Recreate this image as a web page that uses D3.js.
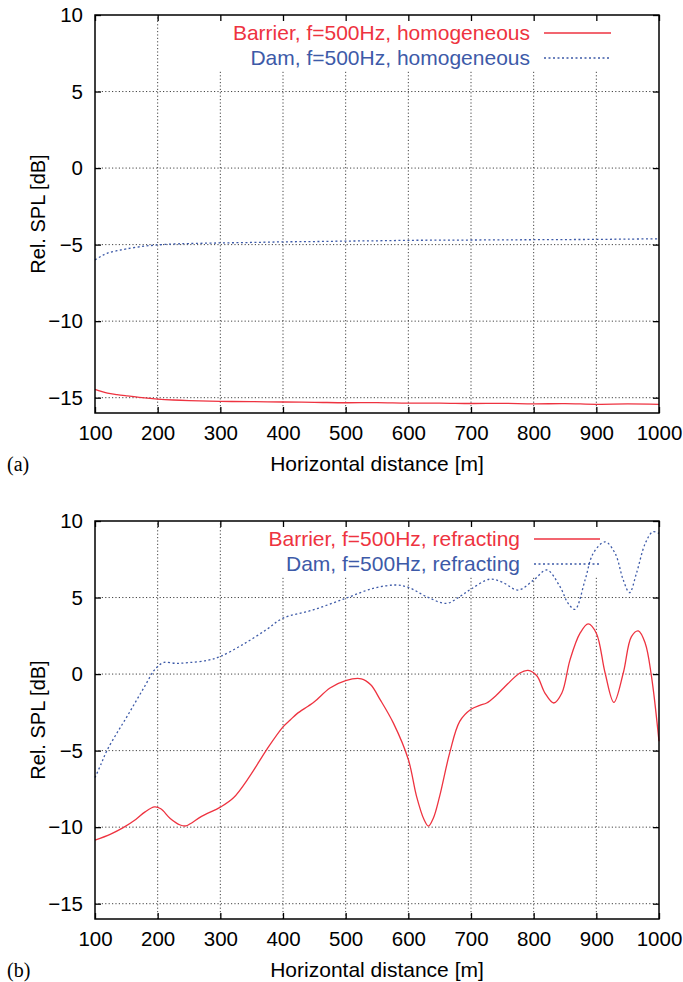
<!DOCTYPE html>
<html>
<head>
<meta charset="utf-8">
<script src="https://cdn.jsdelivr.net/npm/d3@7"></script>
<style>
  body { margin: 0; background: #fff; }
  svg { display: block; }
  text { font-family: "Liberation Sans", Arial, Helvetica, sans-serif; }
</style>
</head>
<body>
<svg width="683" height="982"></svg>
<script>
// tick values shared by both panels
var xTicks = [100, 200, 300, 400, 500, 600, 700, 800, 900, 1000];
var yTicks = [-15, -10, -5, 0, 5, 10];

// panel (a): homogeneous
var distA = [100, 110, 120, 135, 150, 175, 200, 225, 250, 300, 350, 400, 450, 500, 550, 600, 650, 700, 750, 800, 850, 900, 950, 1000];
var barrierHomog = [-14.45, -14.58, -14.7, -14.8, -14.88, -15.0, -15.09, -15.15, -15.19, -15.24, -15.26, -15.28, -15.3, -15.33, -15.32, -15.36, -15.35, -15.38, -15.37, -15.4, -15.39, -15.43, -15.41, -15.43];
var damHomog = [-6.0, -5.75, -5.55, -5.4, -5.28, -5.12, -5.02, -4.96, -4.93, -4.89, -4.86, -4.82, -4.8, -4.77, -4.75, -4.72, -4.71, -4.7, -4.69, -4.68, -4.67, -4.66, -4.64, -4.62];

// panel (b): refracting
var distBarrierRefr = [100, 125, 145, 165, 180, 195, 205, 220, 236, 245, 252, 270, 300, 321, 347, 374, 400, 412, 422, 440, 451, 475, 500, 525, 540, 555, 576, 600, 613, 625, 632, 640, 650, 666, 682, 700, 714, 725, 740, 752, 778, 791, 805, 818, 832, 845, 858, 874, 887, 900, 914, 928, 943, 956, 967, 978, 988, 1000];
var barrierRefr = [-10.85, -10.45, -10.03, -9.5, -9.0, -8.68, -8.8, -9.43, -9.86, -9.92, -9.78, -9.3, -8.69, -8.08, -6.67, -4.93, -3.45, -2.98, -2.6, -2.1, -1.78, -0.91, -0.42, -0.31, -0.7, -1.67, -3.19, -5.58, -7.97, -9.5, -9.93, -9.4, -7.97, -5.15, -3.09, -2.3, -2.04, -1.89, -1.4, -0.91, 0.07, 0.24, -0.11, -1.24, -1.89, -1.24, 0.93, 2.67, 3.28, 2.67, 0.07, -1.85, 0.07, 2.45, 2.82, 2.02, -0.15, -4.39];
var distDamRefr = [100, 110, 119, 135, 150, 165, 180, 193, 200, 210, 230, 250, 280, 300, 335, 373, 400, 448, 500, 544, 579, 600, 629, 661, 682, 700, 730, 750, 775, 800, 821, 842, 855, 866, 882, 895, 914, 930, 943, 953, 964, 978, 990, 1000];
var damRefr = [-6.76, -5.85, -5.0, -3.85, -2.85, -1.8, -0.75, 0.17, 0.5, 0.76, 0.7, 0.75, 0.9, 1.15, 1.91, 2.89, 3.65, 4.19, 4.95, 5.6, 5.82, 5.67, 5.06, 4.62, 5.06, 5.55, 6.2, 6.0, 5.49, 6.14, 6.8, 5.71, 4.62, 4.23, 6.14, 7.88, 8.64, 7.88, 6.14, 5.32, 6.58, 8.53, 9.29, 9.19];

var red = "#ee3340", blue = "#3d5aa8";
var svg = d3.select("svg");

function drawPanel(top, bottom, tag, series, box) {
    var x = d3.scaleLinear().domain([100, 1000]).range([95, 659]);
    var y = d3.scaleLinear().domain([-16, 10]).range([bottom, top]);
    var g = svg.append("g");

    // grid
    var grid = g.append("g").attr("stroke", "#444").attr("stroke-width", 1)
        .attr("stroke-dasharray", "1.2,2.2");
    grid.selectAll("line.gx").data(xTicks.slice(1, -1)).enter().append("line")
        .attr("x1", d => x(d)).attr("x2", d => x(d))
        .attr("y1", y(-16)).attr("y2", y(10));
    grid.selectAll("line.gy").data(yTicks.slice(0, -1)).enter().append("line")
        .attr("x1", x(100)).attr("x2", x(1000))
        .attr("y1", d => y(d)).attr("y2", d => y(d));

    // legend background hides grid
    g.append("rect").attr("x", box[0]).attr("y", top + 1)
        .attr("width", box[1] - box[0]).attr("height", box[2] - top - 1)
        .attr("fill", "#fff");

    // legend
    series.forEach(function(s, i) {
        var ly = top + 18 + i * 25;
        g.append("text").attr("x", s.tx).attr("y", ly).attr("dy", "0.35em")
            .attr("text-anchor", "end").attr("fill", s.color)
            .style("font-size", "21px").text(s.label);
        g.append("line").attr("x1", s.lx[0]).attr("x2", s.lx[1])
            .attr("y1", ly).attr("y2", ly)
            .attr("stroke", s.color).attr("stroke-width", s.dash ? 1.3 : 1.5)
            .attr("stroke-dasharray", s.dash);
    });

    // curves
    series.forEach(function(s) {
        var pts = s.xs.map((d, i) => [d, s.ys[i]]);
        var line = d3.line().x(d => x(d[0])).y(d => y(d[1])).curve(d3.curveCatmullRom);
        g.append("path").attr("d", line(pts)).attr("fill", "none")
            .attr("stroke", s.color).attr("stroke-width", 1.3)
            .attr("stroke-dasharray", s.dash);
    });

    // axes
    var fmt = d3.format("d");
    g.append("g").attr("transform", "translate(0," + bottom + ")")
        .call(d3.axisBottom(x).tickValues(xTicks).tickSize(-6).tickPadding(12).tickFormat(fmt));
    g.append("g").attr("transform", "translate(95,0)")
        .call(d3.axisLeft(y).tickValues(yTicks).tickSize(-6).tickPadding(12).tickFormat(fmt));
    g.append("g").attr("transform", "translate(0," + top + ")")
        .call(d3.axisTop(x).tickValues(xTicks).tickSize(-6).tickFormat(""));
    g.append("g").attr("transform", "translate(659,0)")
        .call(d3.axisRight(y).tickValues(yTicks).tickSize(-6).tickFormat(""));
    g.selectAll(".domain").remove();
    g.selectAll(".tick line").attr("stroke", "#000").attr("stroke-width", 1.3);
    g.selectAll(".tick text").style("font-size", "20.5px").attr("fill", "#000")
        .style("font-family", "'Liberation Sans', Arial, sans-serif");

    // frame
    g.append("rect").attr("x", 95).attr("y", top).attr("width", 564).attr("height", bottom - top)
        .attr("fill", "none").attr("stroke", "#000").attr("stroke-width", 1.5);

    // labels
    g.append("text").attr("x", 377).attr("y", bottom + 58).attr("text-anchor", "middle")
        .style("font-size", "21px").text("Horizontal distance [m]");
    g.append("text").attr("transform", "translate(45," + ((top + bottom) / 2) + ") rotate(-90)")
        .attr("text-anchor", "middle").style("font-size", "20px").text("Rel. SPL [dB]");
    g.append("text").attr("x", 7).attr("y", bottom + 58)
        .style("font-family", "'Liberation Serif', 'Times New Roman', serif")
        .style("font-size", "20px").text(tag);
}

drawPanel(15, 413, "(a)", [
    { label: "Barrier, f=500Hz, homogeneous", color: red, xs: distA, ys: barrierHomog, tx: 530, lx: [544, 611] },
    { label: "Dam, f=500Hz, homogeneous", color: blue, xs: distA, ys: damHomog, tx: 530, lx: [544, 611], dash: "2,2.5" }
], [212, 622, 70]);

drawPanel(521, 919, "(b)", [
    { label: "Barrier, f=500Hz, refracting", color: red, xs: distBarrierRefr, ys: barrierRefr, tx: 520, lx: [534, 600] },
    { label: "Dam, f=500Hz, refracting", color: blue, xs: distDamRefr, ys: damRefr, tx: 520, lx: [534, 600], dash: "2,2.5" }
], [255, 622, 577]);
</script>
</body>
</html>
